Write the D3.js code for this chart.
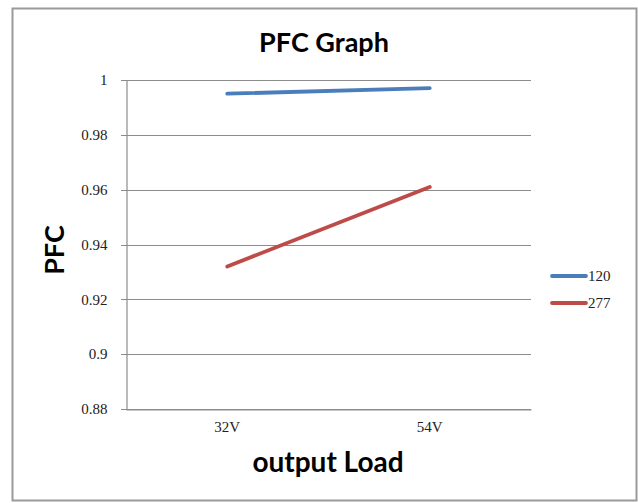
<!DOCTYPE html>
<html lang="en">
<head>
    <meta charset="UTF-8">
    <title>PFC Graph</title>
    <style>
        body { margin: 0; background: #fff; }
        .bold { font-family: Lato, "Open Sans", sans-serif; font-weight: bold; fill: #000; }
    </style>
    <script src="https://d3js.org/d3.v7.min.js"></script>
</head>
<body>
<script>
    const categories = ["32V", "54V"];
    const seriesNames = ["120", "277"];
    const values120 = [0.995, 0.997];
    const values277 = [0.932, 0.961];
    const yTicks = [0.88, 0.9, 0.92, 0.94, 0.96, 0.98, 1];
    const colors = ["#4a7ebb", "#be4b48"];

    const width = 638, height = 503;
    const plot = { left: 126, right: 531, top: 80, bottom: 409 };
    const tickFont = "Liberation Serif, DejaVu Serif, serif";

    const svg = d3.select("body").append("svg")
        .attr("width", width)
        .attr("height", height);

    // outer border
    svg.append("rect")
        .attr("x", 12.5).attr("y", 8.5)
        .attr("width", 624).attr("height", 492)
        .attr("fill", "#fff")
        .attr("stroke", "#9a9a9a")
        .attr("stroke-width", 2);

    const x = d3.scaleBand()
        .domain(categories)
        .range([plot.left, plot.right]);

    const y = d3.scaleLinear()
        .domain([0.88, 1])
        .range([plot.bottom, plot.top]);

    // gridlines
    svg.append("g")
        .selectAll("line")
        .data(yTicks)
        .join("line")
        .attr("x1", plot.left - 5)
        .attr("x2", plot.right)
        .attr("y1", d => Math.round(y(d)) + 0.5)
        .attr("y2", d => Math.round(y(d)) + 0.5)
        .attr("stroke", "#8c8c8c")
        .attr("stroke-width", 1.2);

    // y axis
    const yAxis = svg.append("g")
        .attr("transform", `translate(${plot.left + 0.5},0)`)
        .call(d3.axisLeft(y).tickValues(yTicks).tickSize(0).tickPadding(19)
            .tickFormat(d => d === 1 ? "1" : String(+d.toFixed(2))));
    yAxis.attr("font-family", tickFont).attr("font-size", 15);
    yAxis.selectAll("text").attr("fill", "#222");
    yAxis.select(".domain").attr("stroke", "#8c8c8c").attr("stroke-width", 1.2);

    // x axis
    const xAxis = svg.append("g")
        .attr("transform", `translate(0,${plot.bottom + 0.5})`)
        .call(d3.axisBottom(x).tickSize(0).tickPadding(12));
    xAxis.attr("font-family", tickFont).attr("font-size", 15);
    xAxis.selectAll("text").attr("fill", "#222");
    xAxis.select(".domain").attr("stroke", "#8c8c8c").attr("stroke-width", 1.2);

    // lines
    const line = d3.line()
        .x((d, i) => x(categories[i]) + x.bandwidth() / 2)
        .y(d => y(d));

    [values120, values277].forEach((vals, i) => {
        svg.append("path")
            .datum(vals)
            .attr("d", line)
            .attr("fill", "none")
            .attr("stroke", colors[i])
            .attr("stroke-width", 3.8)
            .attr("stroke-linecap", "round");
    });

    // legend
    const legend = svg.append("g")
        .selectAll("g")
        .data(seriesNames)
        .join("g")
        .attr("transform", (d, i) => `translate(552,${276 + i * 27})`);
    legend.append("line")
        .attr("x1", 0).attr("x2", 34)
        .attr("stroke", (d, i) => colors[i])
        .attr("stroke-width", 3.8)
        .attr("stroke-linecap", "round");
    legend.append("text")
        .attr("x", 36).attr("y", 5)
        .attr("font-family", tickFont)
        .attr("font-size", 15)
        .attr("fill", "#222")
        .text(d => d);

    // titles
    svg.append("text")
        .attr("class", "bold")
        .attr("x", 324).attr("y", 52)
        .attr("text-anchor", "middle")
        .attr("font-size", 27)
        .text("PFC Graph");

    svg.append("text")
        .attr("class", "bold")
        .attr("x", 328).attr("y", 472)
        .attr("text-anchor", "middle")
        .attr("font-size", 28)
        .text("output Load");

    svg.append("text")
        .attr("class", "bold")
        .attr("transform", "translate(64,250) rotate(-90)")
        .attr("text-anchor", "middle")
        .attr("font-size", 27)
        .text("PFC");
</script>
</body>
</html>
